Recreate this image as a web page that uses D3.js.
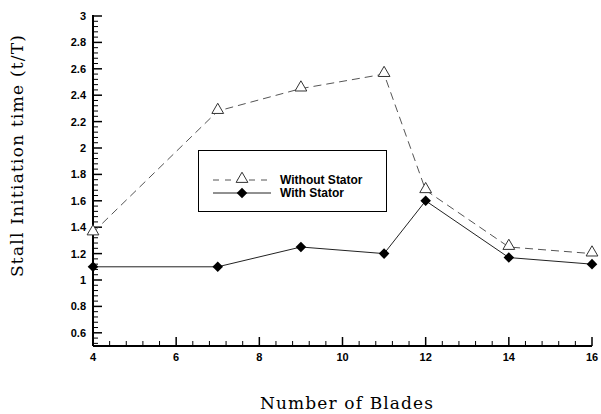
<html>
<head>
<style>
body { margin: 0; background: #fff; }
.tick-label { font-family: "Liberation Sans", Arial, sans-serif; font-weight: bold; font-size: 11px; fill: #000; }
.axis-title { font-family: "DejaVu Serif", "Liberation Serif", serif; font-size: 17px; fill: #000; }
.legend-text { font-family: "Liberation Sans", Arial, sans-serif; font-weight: bold; font-size: 12px; fill: #000; }
</style>
</head>
<body>
<div id="chart"></div>
<script src="https://d3js.org/d3.v7.min.js"></script>
<script>

// data
const blades = [4, 7, 9, 11, 12, 14, 16];
const withoutStator = [1.36, 2.28, 2.45, 2.56, 1.68, 1.25, 1.2];
const withStator = [1.1, 1.1, 1.25, 1.2, 1.6, 1.17, 1.12];
const xTicks = [4, 6, 8, 10, 12, 14, 16];
const yTicks = [0.6, 0.8, 1, 1.2, 1.4, 1.6, 1.8, 2, 2.2, 2.4, 2.6, 2.8, 3];
const seriesNames = ['Without Stator', 'With Stator'];

const width = 601, height = 414;
const svg = d3.select('#chart').append('svg')
	.attr('width', width)
	.attr('height', height);

const x = d3.scaleLinear().domain([4, 16]).range([93, 592]);
const y = d3.scaleLinear().domain([0.5, 3]).range([346, 16]);

// minor ticks
const xMinor = d3.range(4, 16.001, 0.4).filter(v => Math.abs(v / 2 - Math.round(v / 2)) > 0.01);
const yMinor = d3.range(0.52, 3.0, 0.04).filter(v => Math.abs(v / 0.2 - Math.round(v / 0.2)) > 0.01);

const ax = svg.append('g');

ax.selectAll('.xmin').data(xMinor).enter().append('line')
	.attr('x1', d => x(d)).attr('x2', d => x(d))
	.attr('y1', 346).attr('y2', 341)
	.attr('stroke', '#000').attr('stroke-width', 1);
ax.selectAll('.xmaj').data(xTicks).enter().append('line')
	.attr('x1', d => x(d)).attr('x2', d => x(d))
	.attr('y1', 346).attr('y2', 337)
	.attr('stroke', '#000').attr('stroke-width', 1.5);
ax.selectAll('.ymin').data(yMinor).enter().append('line')
	.attr('x1', 93).attr('x2', 98)
	.attr('y1', d => y(d)).attr('y2', d => y(d))
	.attr('stroke', '#000').attr('stroke-width', 1);
ax.selectAll('.ymaj').data(yTicks).enter().append('line')
	.attr('x1', 93).attr('x2', 102)
	.attr('y1', d => y(d)).attr('y2', d => y(d))
	.attr('stroke', '#000').attr('stroke-width', 1.5);

// axis lines
ax.append('line').attr('x1', 93).attr('x2', x(16)).attr('y1', 346).attr('y2', 346)
	.attr('stroke', '#000').attr('stroke-width', 2);
ax.append('line').attr('x1', 93).attr('x2', 93).attr('y1', y(3) - 1).attr('y2', 346)
	.attr('stroke', '#000').attr('stroke-width', 2);

ax.selectAll('.xl').data(xTicks).enter().append('text')
	.attr('class', 'tick-label')
	.attr('x', d => x(d)).attr('y', 361)
	.attr('text-anchor', 'middle')
	.text(d => d);
ax.selectAll('.yl').data(yTicks).enter().append('text')
	.attr('class', 'tick-label')
	.attr('x', 86).attr('y', d => y(d) + 4)
	.attr('text-anchor', 'end')
	.text(d => d);

svg.append('text').attr('class', 'axis-title')
	.attr('x', 260).attr('y', 409)
	.attr('textLength', 173).attr('lengthAdjust', 'spacing')
	.text('Number of Blades');
svg.append('text').attr('class', 'axis-title')
	.attr('transform', 'translate(23,277) rotate(-90)')
	.attr('textLength', 242).attr('lengthAdjust', 'spacing')
	.text('Stall Initiation time (t/T)');

const line = d3.line().x(d => x(d[0])).y(d => y(d[1]));
const dataA = blades.map((b, i) => [b, withoutStator[i]]);
const dataB = blades.map((b, i) => [b, withStator[i]]);

svg.append('path').datum(dataA).attr('d', line)
	.attr('fill', 'none').attr('stroke', '#555').attr('stroke-width', 1)
	.attr('stroke-dasharray', '8,5');
svg.append('path').datum(dataB).attr('d', line)
	.attr('fill', 'none').attr('stroke', '#222').attr('stroke-width', 1);

const tri = d3.symbol().type(d3.symbolTriangle).size(60);
const dia = d3.symbol().type(d3.symbolSquare).size(56);

svg.selectAll('.tri').data(dataA).enter().append('path')
	.attr('d', tri)
	.attr('transform', d => `translate(${x(d[0])},${y(d[1]) - 1})`)
	.attr('fill', '#fff').attr('stroke', '#333').attr('stroke-width', 1);
svg.selectAll('.dia').data(dataB).enter().append('path')
	.attr('d', dia)
	.attr('transform', d => `translate(${x(d[0])},${y(d[1])}) rotate(45)`)
	.attr('fill', '#000');

// legend
const lg = svg.append('g');
lg.append('rect').attr('x', 198.5).attr('y', 150.5).attr('width', 188).attr('height', 61)
	.attr('fill', '#fff').attr('stroke', '#000').attr('stroke-width', 1);
lg.append('line').attr('x1', 213).attr('x2', 271).attr('y1', 180).attr('y2', 180)
	.attr('stroke', '#555').attr('stroke-dasharray', '6,6');
lg.append('path').attr('d', tri).attr('transform', 'translate(242,179)')
	.attr('fill', '#fff').attr('stroke', '#333');
lg.append('line').attr('x1', 213).attr('x2', 271).attr('y1', 193).attr('y2', 193)
	.attr('stroke', '#222');
lg.append('path').attr('d', dia).attr('transform', 'translate(242,193) rotate(45)')
	.attr('fill', '#000');
lg.selectAll('.lt').data(seriesNames).enter().append('text')
	.attr('class', 'legend-text')
	.attr('x', 280).attr('y', (d, i) => 184 + i * 13)
	.text(d => d);

</script>
</body>
</html>
